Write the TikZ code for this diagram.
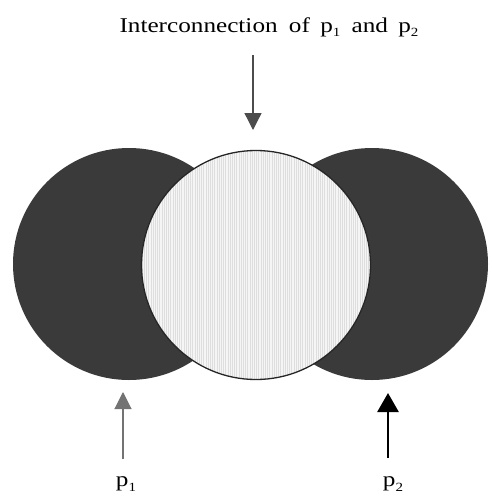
\documentclass[tikz,border=0pt]{standalone}
\usepackage{fontspec}
\setmainfont{Liberation Serif}
\newfontfamily\widefont[FakeStretch=1.2]{Liberation Serif}
\usetikzlibrary{arrows.meta}
\definecolor{darkdisc}{HTML}{3A3A3A}
\definecolor{lightdisc}{HTML}{F5F5F5}
\definecolor{stripe}{HTML}{DEDEDE}
\newcommand{\psub}[1]{p\raisebox{-0.45ex}{\fontsize{12.5}{12.5}\selectfont #1}}
\tikzset{
  disc/.style={circle, inner sep=0pt, fill=darkdisc},
  label text/.style={inner sep=0pt, font=\widefont\fontsize{21}{24}\selectfont},
  arrowline/.style={line width=1.3pt, -{Triangle[length=17pt,width=17pt]}}
}
\begin{document}
\begin{tikzpicture}[x=1pt,y=-1pt]
\useasboundingbox[fill=white] (0,0) rectangle (491,498);
% outer dark discs
\node[disc, minimum size=232pt] (left) at (129,264) {};
\node[disc, minimum size=232pt] (right) at (372,264) {};
% middle disc with vertical stripe texture
\node[circle, inner sep=0pt, minimum size=229pt, fill=lightdisc] (mid) at (256,265) {};
\begin{scope}
  \clip (256,265) circle[radius=114.5pt];
  \foreach \xx in {142,144.2,...,372} {
    \draw[stripe, line width=0.5pt] (\xx,145) -- (\xx,385);
  }
\end{scope}
\draw[line width=1.3pt, black!85] (mid.center) circle[radius=114.5pt];
% labels
\node[label text] (title) at (269,27) {Interconnection\hspace{5pt} of\hspace{4pt} \psub{1}\hspace{5pt} and\hspace{4pt} \psub{2}};
\node[label text] (pone) at (126,484) {\psub{1}};
\node[label text] (ptwo) at (393,484) {\psub{2}};
% arrows
\coordinate (ttop) at (253,55);
\coordinate (tend) at (253,130);
\draw[arrowline, black!70] (ttop) -- (tend);
\coordinate (lbot) at (123,459);
\coordinate (ltop) at (123,392);
\draw[arrowline, black!55, line width=1.1pt] (lbot) -- (ltop);
\coordinate (rbot) at (388,458);
\coordinate (rtop) at (388,393);
\draw[black, line width=2.6pt, -{Triangle[length=19pt,width=21pt]}] (rbot) -- (rtop);
\end{tikzpicture}
\end{document}
